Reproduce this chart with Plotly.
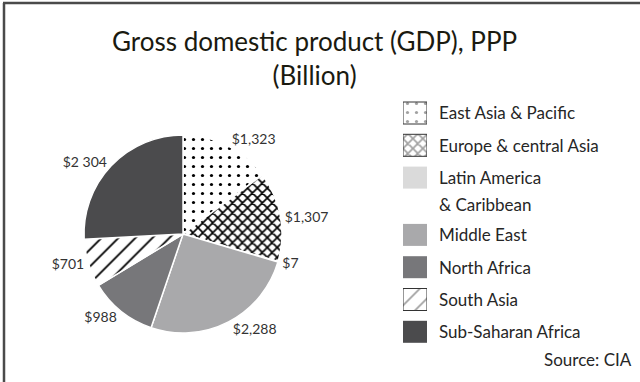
import plotly.graph_objects as go

# Regional GDP (PPP), billions of US dollars
regions = ["East Asia & Pacific", "Europe & central Asia", "Latin America & Caribbean",
           "Middle East", "North Africa", "South Asia", "Sub-Saharan Africa"]
legend_labels = ["East Asia & Pacific", "Europe & central Asia", "Latin America<br>& Caribbean",
                 "Middle East", "North Africa", "South Asia", "Sub-Saharan Africa"]
gdp = [1323, 1307, 7, 2288, 988, 701, 2304]
value_labels = ["$1,323", "$1,307", "$7", "$2,288", "$988", "$701", "$2 304"]

# Fill styles per region
fill_colors = ["#ffffff", "#ffffff", "#dadada", "#a9a9ab", "#77777a", "#ffffff", "#4b4b4d"]
pattern_shapes = [".", "x", "", "", "", "/", ""]
pattern_sizes = [9, 7, 8, 8, 8, 12, 8]
pattern_solidity = [0.1, 0.42, 0.3, 0.3, 0.3, 0.15, 0.3]

W, H = 640, 382
FONT = "Lato"
TEXT = "#262626"

fig = go.Figure()

fig.add_trace(go.Pie(
    labels=regions,
    values=gdp,
    text=value_labels,
    textinfo="text",
    textposition="outside",
    textfont=dict(family=FONT, size=14, color="#333333"),
    sort=False,
    direction="clockwise",
    rotation=0,
    showlegend=False,
    marker=dict(
        colors=fill_colors,
        line=dict(color="#ffffff", width=1.5),
        pattern=dict(shape=pattern_shapes, fgcolor="#000000",
                     size=pattern_sizes, solidity=pattern_solidity),
    ),
    domain=dict(x=[83 / W, 283 / W], y=[(H - 333) / H, (H - 135) / H]),
    hoverinfo="label+value",
))

# Legend rows laid out in pixel units on a hidden axis
row_top, row_step, line_gap = 113, 32.3, 25
centers = []
y = row_top
for lab in legend_labels:
    centers.append(y)
    y += row_step + line_gap * (lab.count("<br>"))

line_w = [1 if s else 0 for s in pattern_shapes]
fig.add_trace(go.Bar(
    x=[1] * len(regions),
    y=centers,
    base=0,
    orientation="h",
    width=22,
    xaxis="x2",
    yaxis="y2",
    showlegend=False,
    hoverinfo="skip",
    marker=dict(
        color=fill_colors,
        line=dict(color="#333333", width=line_w),
        pattern=dict(shape=pattern_shapes, fgcolor="#000000",
                     size=pattern_sizes, solidity=pattern_solidity),
    ),
))

annotations = []
for lab, cy in zip(legend_labels, centers):
    for j, part in enumerate(lab.split("<br>")):
        annotations.append(dict(
            x=437 / W, y=1 - (cy + j * 27) / H, xref="paper", yref="paper",
            text=part, showarrow=False, xanchor="left", yanchor="middle",
            font=dict(family=FONT, size=17, color=TEXT),
        ))

# Two-line chart title
annotations.append(dict(
    x=0.492, y=1 - 58 / H, xref="paper", yref="paper",
    text="Gross domestic product (GDP), PPP<br>(Billion)",
    showarrow=False, xanchor="center", yanchor="middle", align="center",
    font=dict(family=FONT, size=26, color="#1a1a10"),
))

annotations.append(dict(
    x=634 / W, y=1 - 359 / H, xref="paper", yref="paper", text="Source: CIA",
    showarrow=False, xanchor="right", yanchor="middle",
    font=dict(family=FONT, size=17, color=TEXT),
))

fig.update_layout(
    width=W, height=H,
    margin=dict(l=0, r=0, t=0, b=0),
    paper_bgcolor="#ffffff",
    plot_bgcolor="rgba(0,0,0,0)",
    annotations=annotations,
    xaxis=dict(visible=False),
    yaxis=dict(visible=False),
    xaxis2=dict(domain=[403 / W, 427 / W], range=[0, 1], visible=False, fixedrange=True),
    yaxis2=dict(domain=[0, 1], range=[H, 0], visible=False, fixedrange=True, anchor="x2"),
    shapes=[
        dict(type="line", xref="paper", yref="paper", x0=3 / W, x1=1, y0=1 - 3 / H, y1=1 - 3 / H,
             line=dict(color="#4a4a4a", width=2.5)),
        dict(type="line", xref="paper", yref="paper", x0=4 / W, x1=4 / W, y0=0, y1=1 - 3 / H,
             line=dict(color="#4a4a4a", width=2.5)),
    ],
)

fig.write_html("out.html")
